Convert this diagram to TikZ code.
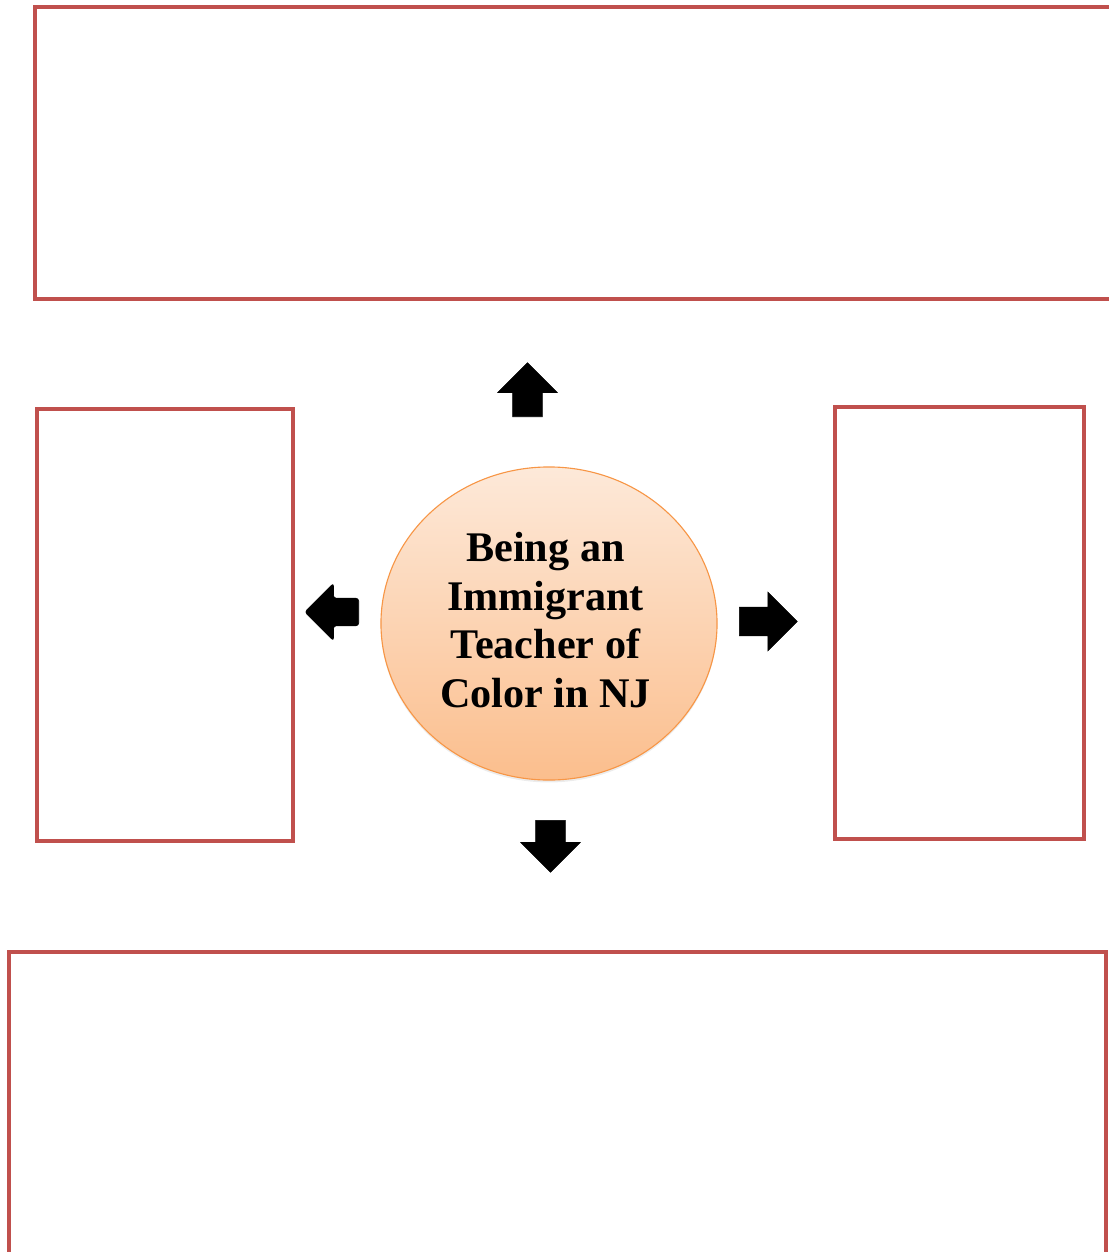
\documentclass[tikz,border=0pt]{standalone}
\usepackage{fontspec}
\usetikzlibrary{shapes.arrows}
\usetikzlibrary{shapes.geometric}
\usetikzlibrary{shadows}
\newfontfamily\hubfont{Liberation Serif}
\definecolor{boxred}{RGB}{192,80,77}
\definecolor{hubline}{RGB}{247,150,70}
\definecolor{hubtop}{RGB}{253,233,217}
\definecolor{hubbottom}{RGB}{251,190,141}
\tikzset{
  box/.style={draw=boxred, line width=0.1cm, rectangle, inner sep=0pt},
  blockarrow/.style={single arrow, fill=black, draw=black, line width=0.4pt, inner sep=0pt,
    single arrow head extend=0.375cm, anchor=tail, text depth=0pt},
  varrow/.style={blockarrow, text width=0.725cm, text height=0pt},
  harrow/.style={blockarrow, text width=0pt, text height=0.7cm}
}

\begin{document}
\begin{tikzpicture}[x=0.025cm, y=-0.025cm]
  \useasboundingbox (0,0) rectangle (1109,1252);

  \node[box, minimum width=27.125cm, minimum height=7.3cm] (upper) at (577.5,153) {};
  \node[box, minimum width=6.4cm, minimum height=10.8cm] (leftbox) at (165,625) {};
  \node[box, minimum width=6.225cm, minimum height=10.8cm] (rightbox) at (959.5,623) {};
  \node[box, minimum width=27.425cm, minimum height=7.75cm] (lower) at (557.5,1107) {};

  \node[ellipse, draw=hubline, line width=0.8pt, top color=hubtop, bottom color=hubbottom,
        minimum width=8.4cm, minimum height=7.825cm, inner sep=0pt,
        drop shadow={shadow xshift=0pt, shadow yshift=-0.06cm, opacity=0.15}] (hub) at (549,623.5) {};
  \node[align=center, font=\hubfont\fontsize{30}{34.7}\selectfont\bfseries] (hubtext) at (545.5,620)
    {Being an\\Immigrant\\Teacher of\\Color in NJ};

  \node[varrow, shape border rotate=90, minimum height=1.35cm, minimum width=1.475cm] (up) at (527.5,417) {};
  \node[harrow, shape border rotate=180, minimum height=1.35cm, minimum width=1.3cm,
        rounded corners=2pt, text height=0.675cm] (left) at (359,612) {};
  \node[harrow, shape border rotate=0, minimum height=1.45cm, minimum width=1.475cm] (right) at (739,621.5) {};
  \node[varrow, shape border rotate=270, minimum height=1.3cm, minimum width=1.475cm] (down) at (550.5,820) {};
\end{tikzpicture}
\end{document}
